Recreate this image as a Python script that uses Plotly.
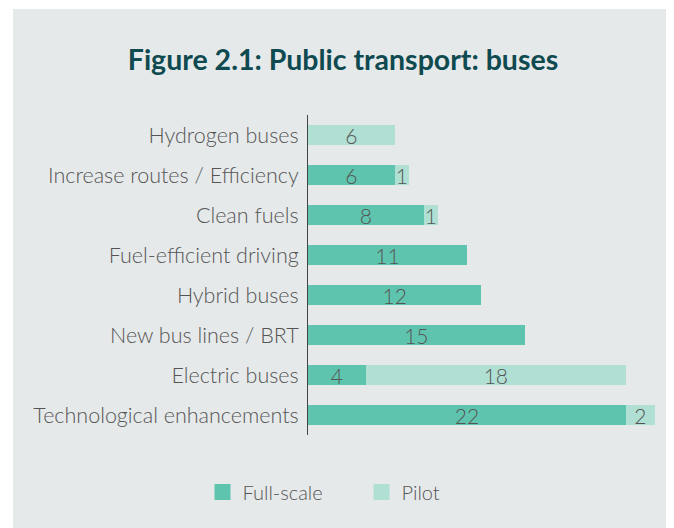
import plotly.graph_objects as go

categories = [
    "Hydrogen buses",
    "Increase routes / Efficiency",
    "Clean fuels",
    "Fuel-efficient driving",
    "Hybrid buses",
    "New bus lines / BRT",
    "Electric buses",
    "Technological enhancements",
]
full_scale = [0, 6, 8, 11, 12, 15, 4, 22]
pilot = [6, 1, 1, 0, 0, 0, 18, 2]

FULL_COLOR = "#5fc4ae"
PILOT_COLOR = "#b0dfd3"
BG = "#e6e9ea"
TEXT = "#555555"
FONT = "Lato"

# page has an 8px body margin, so the figure is sized to the remaining space
W, H = 666, 520
L, R, T, B = 300, 12, 107, 93
PW, PH = W - L - R, H - T - B


def labels(vals):
    return [str(v) if v else "" for v in vals]


fig = go.Figure()

for name, vals, color in [("Full-scale", full_scale, FULL_COLOR),
                          ("Pilot", pilot, PILOT_COLOR)]:
    fig.add_trace(go.Bar(
        y=categories, x=[v if v else None for v in vals], orientation="h",
        name=name, marker=dict(color=color, line=dict(width=0)),
        text=labels(vals), textposition="inside", insidetextanchor="middle",
        textangle=0,
        textfont=dict(family=FONT, size=21, color=TEXT, weight=300),
        constraintext="none", showlegend=False, hoverinfo="x+y+name",
    ))
    # legend entry with a larger square swatch
    fig.add_trace(go.Scatter(
        x=[None], y=[None], mode="markers", name=name,
        marker=dict(symbol="square", size=16, color=color),
    ))

fig.update_layout(
    barmode="stack",
    bargap=0.5,
    width=W, height=H,
    margin=dict(l=L, r=R, t=T, b=B),
    paper_bgcolor="white",
    plot_bgcolor=BG,
    font=dict(family=FONT, color=TEXT, size=21, weight=300),
    title=dict(
        text="Figure 2.1: Public transport: buses",
        font=dict(family=FONT, size=28.5, color="#0e4a50", weight=700),
        x=335 / W, xanchor="center", xref="container",
        y=1 - 52 / H, yanchor="middle", yref="container",
    ),
    legend=dict(
        orientation="h", traceorder="normal",
        x=-0.298, xanchor="left", y=-(484 - 427) / PH, yanchor="middle",
        font=dict(family=FONT, size=20, color=TEXT, weight=300),
        bgcolor="rgba(0,0,0,0)", entrywidth=114, itemclick=False,
    ),
    shapes=[dict(
        type="rect", xref="paper", yref="paper", layer="below",
        x0=(5 - L) / PW, x1=(W + 10 - L) / PW,
        y0=-(B + 10) / PH, y1=(H - 1 - B) / PH,
        fillcolor=BG, line=dict(width=0),
    )],
)

fig.update_xaxes(range=[0, 24.5], visible=False, fixedrange=True)
fig.update_yaxes(
    autorange="reversed", showline=True, linecolor="#444444", linewidth=1,
    ticks="", ticklabelstandoff=4, showgrid=False, fixedrange=True,
    tickfont=dict(family=FONT, size=21.5, color=TEXT, weight=300),
)

fig.write_html("out.html")
